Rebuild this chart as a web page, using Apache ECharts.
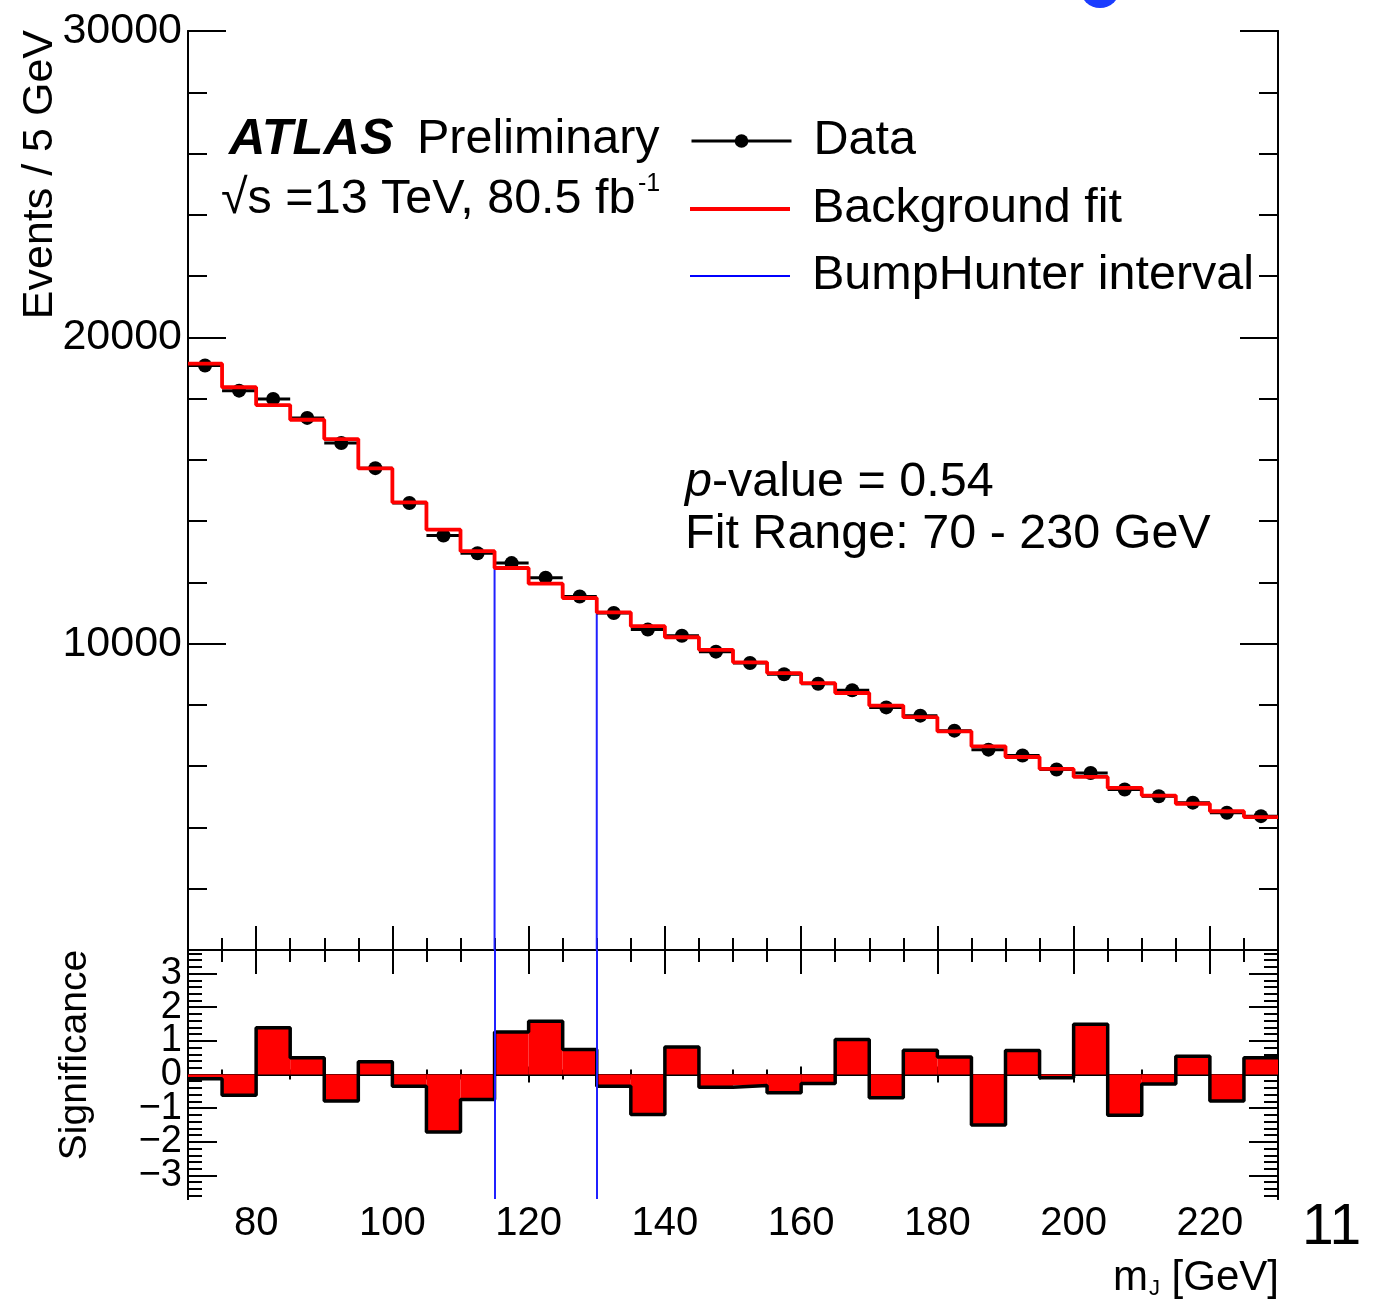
<!DOCTYPE html>
<html><head><meta charset="utf-8">
<script src="https://cdn.jsdelivr.net/npm/echarts@6/dist/echarts.min.js"></script>
<style>html,body{margin:0;padding:0;background:#fff}#c{width:1380px;height:1303px}</style>
</head><body><div id="c"></div>
<script>
// ---- data ----
const binEdges = [70,75,80,85,90,95,100,105,110,115,120,125,130,135,140,145,150,155,160,165,170,175,180,185,190,195,200,205,210,215,220,225,230];
const dataCounts = [19080,18260,17990,17370,16550,15730,14590,13530,12950,12630,12150,11540,11000,10460,10260,9740,9370,9000,8690,8480,7920,7650,7160,6540,6350,5890,5780,5240,5020,4810,4480,4370];
const fitCounts  = [19140,18370,17790,17310,16680,15720,14610,13720,13020,12470,11960,11490,11020,10570,10210,9800,9390,9040,8710,8390,7980,7600,7140,6650,6300,5910,5650,5290,5040,4775,4530,4340];
const significance = [-0.13,-0.62,1.39,0.50,-0.79,0.38,-0.35,-1.71,-0.74,1.26,1.58,0.74,-0.35,-1.19,0.82,-0.38,-0.33,-0.54,-0.27,1.04,-0.69,0.72,0.52,-1.50,0.71,-0.10,1.49,-1.21,-0.28,0.54,-0.79,0.50];
const bumpInterval = [115, 130];
const xMajorTicks = [80,100,120,140,160,180,200,220];
const yMainMajor = [0,10000,20000,30000];
const yMainLabels = [10000,20000,30000];
const sigMajor = [-3,-2,-1,0,1,2,3];
const sigLabelsOdd = [-3,-1,1,3];
const sigLabelsEven = [-2,0,2];
const sigMinor = [-3.6,-3.4,-3.2,-3.0,-2.8,-2.6,-2.4,-2.2,-2.0,-1.8,-1.6,-1.4,-1.2,-1.0,-0.8,-0.6,-0.4,-0.2,0,0.2,0.4,0.6,0.8,1.0,1.2,1.4,1.6,1.8,2.0,2.2,2.4,2.6,2.8,3.0,3.2,3.4,3.6];

const FONT = 'Liberation Sans, Arial, Helvetica, sans-serif';
const nBins = dataCounts.length;
const binLo = i => binEdges[i], binHi = i => binEdges[i+1];

// derived structures
const fitStep = [], sigStep = [], dataPts = [], errBars = [], sigBars = [], bumpStep = [];
for (let i = 0; i < nBins; i++) {
  fitStep.push([binLo(i), fitCounts[i]], [binHi(i), fitCounts[i]]);
  sigStep.push([binLo(i), significance[i]], [binHi(i), significance[i]]);
  dataPts.push([(binLo(i)+binHi(i))/2, dataCounts[i]]);
  errBars.push([binLo(i), binHi(i), dataCounts[i]]);
  sigBars.push([binLo(i), binHi(i), significance[i]]);
}
bumpStep.push([bumpInterval[0], 0]);
for (let i = 0; i < nBins; i++) {
  if (binLo(i) >= bumpInterval[0] && binHi(i) <= bumpInterval[1]) {
    bumpStep.push([binLo(i), fitCounts[i]], [binHi(i), fitCounts[i]]);
  }
}
bumpStep.push([bumpInterval[1], 0]);

const lineBlack = {show: true, lineStyle: {color: '#000', width: 2}};
function tick(len, custom) {
  const t = {show: true, inside: true, length: len, lineStyle: {color: '#000', width: 2}};
  if (custom) t.customValues = custom;
  return t;
}
function xAx(grid, pos, len, opts) {
  return Object.assign({
    type: 'value', gridIndex: grid, position: pos, min: 70, max: 230,
    axisLine: lineBlack, splitLine: {show: false},
    axisTick: tick(len), axisLabel: {show: false}
  }, opts || {});
}
function yAx(grid, pos, len, min, max, opts) {
  return Object.assign({
    type: 'value', gridIndex: grid, position: pos, min: min, max: max,
    axisLine: lineBlack, splitLine: {show: false},
    axisTick: tick(len), axisLabel: {show: false}
  }, opts || {});
}
const sigFmt = v => (v < 0 ? '\u2212' + Math.abs(v) : String(v));
function sigLabel(vals) {
  return {show: true, customValues: vals, fontSize: 38, fontFamily: FONT, color: '#000', margin: 6,
    showMinLabel: true, showMaxLabel: true, hideOverlap: false, formatter: sigFmt};
}

const xAxis = [
  xAx(0, 'bottom', 12, {interval: 5}),
  xAx(0, 'top', 12, {interval: 5}),
  xAx(0, 'bottom', 24, {axisTick: tick(24, xMajorTicks)}),
  xAx(0, 'top', 24, {axisTick: tick(24, xMajorTicks)}),
  xAx(1, 'bottom', 5, {interval: 5}),
  xAx(1, 'top', 5, {interval: 5}),
  xAx(1, 'bottom', 8, {
    axisTick: tick(8, xMajorTicks),
    axisLabel: {show: true, customValues: xMajorTicks, fontSize: 40, fontFamily: FONT, color: '#000', margin: 5,
      showMinLabel: true, showMaxLabel: true, hideOverlap: false, formatter: v => String(v)}
  }),
  xAx(1, 'top', 8, {axisTick: tick(8, xMajorTicks)})
];
const yAxis = [
  yAx(0, 'left', 19, 0, 30000, {interval: 2000}),
  yAx(0, 'right', 19, 0, 30000, {interval: 2000}),
  yAx(0, 'left', 38, 0, 30000, {
    axisTick: tick(38, yMainMajor),
    axisLabel: {show: true, customValues: yMainLabels, fontSize: 43, fontFamily: FONT, color: '#000', margin: 6,
      showMinLabel: true, showMaxLabel: true, hideOverlap: false, formatter: v => String(v)}
  }),
  yAx(0, 'right', 38, 0, 30000, {axisTick: tick(38, yMainMajor)}),
  yAx(1, 'left', 14, -3.7, 3.7, {axisTick: tick(14, sigMinor)}),
  yAx(1, 'right', 14, -3.7, 3.7, {axisTick: tick(14, sigMinor)}),
  yAx(1, 'left', 29, -3.7, 3.7, {axisTick: tick(29, sigMajor), axisLabel: sigLabel(sigLabelsOdd)}),
  yAx(1, 'right', 29, -3.7, 3.7, {axisTick: tick(29, sigMajor)}),
  yAx(1, 'left', 29, -3.7, 3.7, {axisTick: tick(29, sigMajor), axisLabel: sigLabel(sigLabelsEven)})
];

const legendBase = {
  orient: 'vertical', left: 690, padding: 0, itemWidth: 100, selectedMode: false,
  textStyle: {fontSize: 48.5, fontFamily: FONT, color: '#000', lineHeight: 49, padding: [0, 0, 0, 17]}
};

function txt(x, y, text, size, extra, el) {
  return Object.assign({
    type: 'text', x: x, y: y, z: 100,
    style: Object.assign({text: text, fill: '#000', fontSize: size, fontFamily: FONT,
      textAlign: 'left', textVerticalAlign: 'middle', align: 'left', verticalAlign: 'middle'}, extra || {})
  }, el || {});
}

const option = {
  animation: false,
  backgroundColor: '#fff',
  grid: [
    {left: 188, top: 31, width: 1090, height: 919, containLabel: false},
    {left: 188, top: 950, width: 1090, height: 249, containLabel: false}
  ],
  xAxis: xAxis,
  yAxis: yAxis,
  legend: [
    Object.assign({}, legendBase, {top: 141 - 24.5, itemHeight: 17, data: ['Data'],
      lineStyle: {color: '#000', width: 3, opacity: 1}, itemStyle: {color: '#000', opacity: 1}}),
    Object.assign({}, legendBase, {top: 209 - 24.5, itemHeight: 4, data: [{name: 'Background fit', icon: 'rect'}]}),
    Object.assign({}, legendBase, {top: 276 - 24.5, itemHeight: 2, data: [{name: 'BumpHunter interval', icon: 'rect'}]})
  ],
  series: [
    {
      name: 'BumpHunter interval', type: 'line', xAxisIndex: 0, yAxisIndex: 0, data: bumpStep,
      color: '#0000ff', symbol: 'none', lineStyle: {color: '#2020ff', width: 2}, z: 2
    },
    {
      name: 'Data', type: 'line', xAxisIndex: 0, yAxisIndex: 0, data: dataPts,
      color: '#000', symbol: 'circle', symbolSize: 14, showSymbol: true, showAllSymbol: true,
      itemStyle: {color: '#000'}, lineStyle: {width: 0, opacity: 0}, z: 3
    },
    {
      name: 'DataErr', type: 'custom', xAxisIndex: 0, yAxisIndex: 0, data: errBars,
      encode: {x: [0, 1], y: 2}, z: 3,
      renderItem: function (params, api) {
        const a = api.coord([api.value(0), api.value(2)]);
        const b = api.coord([api.value(1), api.value(2)]);
        return {type: 'line', shape: {x1: a[0], y1: a[1], x2: b[0], y2: b[1]}, style: {stroke: '#000', lineWidth: 3}};
      }
    },
    {
      name: 'Background fit', type: 'line', xAxisIndex: 0, yAxisIndex: 0, data: fitStep,
      color: '#ff0000', symbol: 'none', lineStyle: {color: '#ff0000', width: 3.8}, z: 4
    },
    {
      name: 'SigFill', type: 'custom', xAxisIndex: 4, yAxisIndex: 4, data: sigBars,
      encode: {x: [0, 1], y: 2}, z: 2,
      renderItem: function (params, api) {
        const a = api.coord([api.value(0), 0]);
        const b = api.coord([api.value(1), api.value(2)]);
        return {type: 'rect', shape: {x: a[0], y: Math.min(a[1], b[1]), width: b[0] - a[0], height: Math.abs(b[1] - a[1])},
          style: {fill: '#ff0000'}};
      }
    },
    {
      name: 'SigOutline', type: 'line', xAxisIndex: 4, yAxisIndex: 4, data: sigStep,
      symbol: 'none', lineStyle: {color: '#000', width: 3.5}, z: 3,
      markLine: {
        silent: true, symbol: 'none', label: {show: false},
        lineStyle: {color: '#2020ff', width: 2, type: 'solid'},
        data: [{xAxis: bumpInterval[0]}, {xAxis: bumpInterval[1]}]
      }
    }
  ],
  graphic: [
    {type: 'circle', shape: {cx: 1100, cy: -12, r: 20}, style: {fill: '#1a3cff'}, z: 100},
    txt(229, 140, 'ATLAS', 50.5, {fontWeight: 'bold', fontStyle: 'italic'}),
    txt(417, 140, 'Preliminary', 48.5),
    txt(221, 200, '\u221As =13 TeV, 80.5 fb', 48.5),
    txt(638, 184, '-1', 25),
    txt(685, 483, '{i|p}-value = 0.54', 48.5, {rich: {i: {fontSize: 48.5, fontFamily: FONT, fontStyle: 'italic', fill: '#000'}}}),
    txt(685, 535, 'Fit Range: 70 - 230 GeV', 48.5),
    txt(40, 30, 'Events / 5 GeV', 43, {textAlign: 'right', align: 'right'}, {rotation: Math.PI / 2}),
    txt(75, 1055, 'Significance', 39, {textAlign: 'center', align: 'center'}, {rotation: Math.PI / 2}),
    txt(1279, 1278, '[GeV]', 42, {textAlign: 'right', align: 'right'}),
    txt(1148, 1278, 'm', 42, {textAlign: 'right', align: 'right'}),
    txt(1149, 1289, 'J', 22),
    txt(1302, 1228, '11', 57)
  ]
};

const chart = echarts.init(document.getElementById('c'), null, {renderer: 'canvas'});
chart.setOption(option);
</script>
</body></html>
